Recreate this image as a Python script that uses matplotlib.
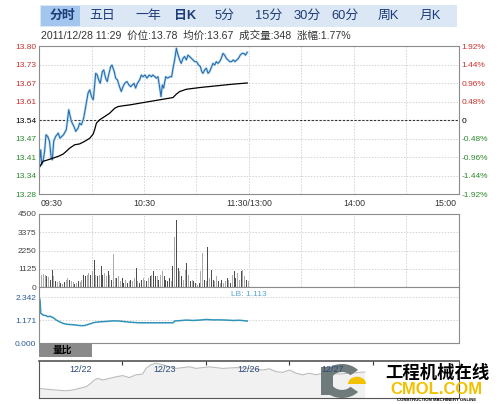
import matplotlib.pyplot as plt
from matplotlib.patches import Rectangle, Wedge

plt.rcParams['font.family'] = ['Liberation Sans', 'Noto Sans CJK SC', 'DejaVu Sans']

W, H = 499, 404

# ---- data ----
tabs = ['分时', '五日', '一年', '日K', '5分', '15分', '30分', '60分', '周K', '月K']
tab_x = [62, 102, 148, 185, 225, 269, 307, 345, 388, 430]
info = '2011/12/28 11:29  价位:13.78  均价:13.67  成交量:348  涨幅:1.77%'

prev_close = 13.54
price_ticks = [13.28, 13.345, 13.41, 13.475, 13.54, 13.605, 13.67, 13.735, 13.80]
price_labels = ['13.28', '13.34', '13.41', '13.47', '13.54', '13.61', '13.67', '13.73', '13.80']
pct_labels = ['-1.92%', '-1.44%', '-0.96%', '-0.48%', '0', '0.48%', '0.96%', '1.44%', '1.92%']
time_labels = ['09:30', '10:30', '11:30/13:00', '14:00', '15:00']
time_pos = [0, 60, 120, 180, 240]

# minutes after 09:30, price
t_price = [0, 1, 1.5, 2.3, 3.2, 4, 5, 6, 7, 7.6, 8.4, 9.5, 11, 12, 13, 14, 15.6, 17, 18.5, 20,
           21, 22.3, 23.2, 24.2, 25.5, 26.7, 28, 29, 30, 31, 31.8, 32.4, 33.3, 34.1, 35, 36.2, 37,
           38.1, 39, 40, 41, 41.7, 43, 43.8, 44.8, 45.7, 47, 48, 49, 50.3, 51.4, 52.4, 53.3, 54.3,
           55.2, 56.2, 57.5, 58.5, 59.4, 60.6, 61.7, 63, 64.2, 65, 66.3, 67, 68, 69, 69.7, 70.5,
           71.2, 72.4, 73.5, 74.7, 75.8, 76.6, 77.5, 78.5, 79.2, 80.4, 81.3, 82.3, 83.2, 84.2,
           85.1, 86, 87, 88, 89, 90, 91.2, 92.2, 93, 93.7, 94.7, 95.6, 96.6, 97.5, 98.7, 99.4,
           100.4, 101.3, 102.3, 103.2, 104.2, 105.1, 106.1, 107, 108, 109, 110, 111, 112, 113,
           114, 115, 116, 117, 118, 119]
price = [13.377, 13.435, 13.383, 13.395, 13.430, 13.488, 13.482, 13.465, 13.406, 13.400,
         13.465, 13.482, 13.494, 13.476, 13.482, 13.488, 13.506, 13.576, 13.535, 13.517,
         13.500, 13.511, 13.529, 13.523, 13.546, 13.587, 13.634, 13.646, 13.622, 13.611,
         13.663, 13.704, 13.698, 13.681, 13.669, 13.710, 13.716, 13.687, 13.675, 13.704,
         13.728, 13.733, 13.710, 13.687, 13.681, 13.663, 13.640, 13.657, 13.669, 13.675,
         13.663, 13.657, 13.663, 13.669, 13.652, 13.669, 13.681, 13.698, 13.692, 13.698,
         13.687, 13.698, 13.692, 13.698, 13.692, 13.687, 13.692, 13.652, 13.622, 13.663,
         13.652, 13.692, 13.687, 13.692, 13.692, 13.722, 13.751, 13.792, 13.774, 13.751,
         13.739, 13.757, 13.763, 13.751, 13.768, 13.763, 13.757, 13.751, 13.745, 13.745,
         13.733, 13.728, 13.710, 13.704, 13.716, 13.722, 13.704, 13.710, 13.728, 13.739,
         13.733, 13.745, 13.739, 13.745, 13.757, 13.774, 13.768, 13.757, 13.751, 13.745,
         13.745, 13.751, 13.745, 13.751, 13.757, 13.768, 13.774, 13.774, 13.768, 13.778]

t_avg = [0, 2.3, 5.1, 8, 10.9, 13.7, 15.6, 17.5, 20.4, 23.2, 26.1, 29, 30.9, 31.8, 32.8, 34.7,
         37.5, 40.4, 43.2, 45.1, 48, 51.8, 57.5, 63.2, 69, 76.6, 78.5, 80.4, 84.2, 91.8, 101.3,
         110.9, 119]
avg_price = [13.371, 13.395, 13.400, 13.406, 13.412, 13.420, 13.430, 13.441, 13.453, 13.456,
             13.465, 13.476, 13.490, 13.506, 13.529, 13.541, 13.552, 13.564, 13.581, 13.587,
             13.590, 13.593, 13.599, 13.605, 13.611, 13.619, 13.631, 13.640, 13.648, 13.654,
             13.660, 13.666, 13.670]

vol_ticks = [0, 1125, 2250, 3375, 4500]
volume = [1370, 750, 800, 750, 650, 600, 450, 1060, 650, 350, 300, 350, 250, 200, 300, 450,
          550, 450, 400, 300, 200, 250, 350, 300, 450, 750, 650, 750, 850, 750, 960, 1680,
          750, 650, 750, 1270, 750, 850, 650, 960, 750, 450, 2045, 550, 550, 650, 350, 550,
          250, 450, 250, 350, 450, 350, 550, 1165, 350, 250, 450, 550, 450, 350, 550, 650,
          750, 960, 650, 650, 450, 750, 960, 650, 450, 350, 550, 350, 1270, 3070, 4130, 1170,
          960, 650, 450, 1060, 1470, 750, 350, 450, 350, 250, 150, 250, 960, 2085, 450, 350,
          2435, 550, 1060, 450, 350, 650, 350, 250, 450, 250, 350, 550, 450, 250, 750, 960,
          550, 850, 450, 960, 1060, 650, 450, 350]
vol_shade = ('DLLLDLDDLDLLDLDLLDLLDLDLLDDLLDLD'
             'LDLDDLLDLDLLDLLDDLDLDLLDLDDLLDLD'
             'LDDLDLLDDDDLDLDDLDLLDLDLDDLDLLDL'
             'DLDDLLDLDLLDLDLDDLLDLLDL')

ratio_ticks = [0.0, 1.171, 2.342]
ratio_labels = ['0.000', '1.171', '2.342']
t_ratio = [0, 0.6, 1, 2.3, 4.2, 5.1, 6.1, 8, 9.9, 11.8, 13.7, 15.6, 17.5, 19.4, 21.3, 24.2,
           26.1, 28, 29.9, 31.8, 34.7, 38.5, 42.3, 46.1, 49.9, 53.7, 57.5, 61.3, 65.1, 68.9,
           72.8, 76.6, 77.5, 80.4, 84.2, 88, 91.8, 95.6, 99.4, 103.2, 107, 110.9, 114.7, 119]
ratio = [2.39, 2.20, 1.53, 1.44, 1.40, 1.35, 1.38, 1.31, 1.18, 1.09, 1.01, 0.97, 0.95,
         0.94, 0.92, 0.89, 0.90, 0.95, 1.01, 1.06, 1.09, 1.11, 1.14, 1.13, 1.09, 1.06,
         1.04, 1.04, 1.04, 1.04, 1.04, 1.04, 1.13, 1.15, 1.18, 1.16, 1.18, 1.21, 1.19,
         1.19, 1.18, 1.16, 1.17, 1.13]
ratio_last = 'LB: 1.113'

nav_days = ['12/22', '12/23', '12/26', '12/27']
nav_x = [0.004, 0.084, 0.204, 0.323, 0.404, 0.483, 0.563, 0.623, 0.662, 0.703, 0.763, 0.842,
         0.922, 1.002, 1.081, 1.162, 1.242, 1.281, 1.341, 1.401, 1.481, 1.560, 1.641, 1.721,
         1.800, 1.880, 1.960, 2.040, 2.200, 2.359, 2.519, 2.679, 2.758, 2.838, 2.919, 2.998,
         3.078, 3.158, 3.237, 3.317, 3.398, 3.6, 3.9]
nav_price = [13.14, 13.12, 13.10, 13.08, 13.10, 13.14, 13.18, 13.27, 13.35, 13.39, 13.35,
             13.39, 13.43, 13.46, 13.41, 13.48, 13.50, 13.64, 13.73, 13.77, 13.73, 13.68,
             13.64, 13.66, 13.68, 13.64, 13.66, 13.68, 13.64, 13.66, 13.64, 13.60, 13.63,
             13.56, 13.54, 13.60, 13.52, 13.48, 13.52, 13.48, 13.52, 13.50, 13.55]


def fx(x):
    return x / W


def fy(y):
    return 1 - y / H


fig = plt.figure(figsize=(W / 100, H / 100), dpi=100)
fig.patch.set_facecolor('white')

RED = '#c8302c'
GREEN = '#2c8a2c'
GRID = '#d4d4d4'
EDGE = '#8c8c8c'

# ---- tab bar ----
fig.patches.append(Rectangle((fx(40), fy(27)), fx(417), 22 / H, transform=fig.transFigure,
                             facecolor='#dce7f5', edgecolor='none'))
fig.patches.append(Rectangle((fx(41), fy(26)), fx(39), 20 / H, transform=fig.transFigure,
                             facecolor='#a3c6ee', edgecolor='none'))
for name, x in zip(tabs, tab_x):
    bold = name in ('分时', '日K')
    fig.text(fx(x), fy(16), name, ha='center', va='center', fontsize=9.3,
             color='#1d3c78', fontweight='bold' if bold else 'normal')

fig.text(fx(41), fy(36), info, ha='left', va='center', fontsize=7.6, color='#333333')


def frame(ax):
    for s in ax.spines.values():
        s.set_color(EDGE)
        s.set_linewidth(0.8)
    ax.tick_params(length=0, labelsize=6)
    ax.set_xlim(0, 240)
    ax.set_xticks([30 * k for k in range(1, 8)])
    ax.set_xticklabels([])


# ---- price panel ----
ax = fig.add_axes([fx(39), fy(194), fx(420), 148 / H])
frame(ax)
ax.set_ylim(price_ticks[0], price_ticks[-1])
ax.set_yticks(price_ticks)
ax.set_yticklabels(price_labels)
ax.grid(True, color=GRID, linestyle=(0, (1.5, 1.5)), linewidth=0.7)
ax.axhline(prev_close, color='#333333', linestyle=(0, (2, 1.5)), linewidth=0.8)
for lbl, v in zip(ax.get_yticklabels(), price_ticks):
    lbl.set_color(RED if v > prev_close + 1e-6 else GREEN if v < prev_close - 1e-6 else 'black')
ax.tick_params(axis='y', pad=2)
ax2 = ax.twinx()
ax2.set_ylim(ax.get_ylim())
ax2.set_yticks(price_ticks)
ax2.set_yticklabels(pct_labels)
ax2.tick_params(length=0, labelsize=6, pad=2)
for s in ax2.spines.values():
    s.set_visible(False)
for lbl, v in zip(ax2.get_yticklabels(), price_ticks):
    lbl.set_color(RED if v > prev_close + 1e-6 else GREEN if v < prev_close - 1e-6 else 'black')
ax.plot(t_price, price, color='#b3dcf2', linewidth=1.8, solid_joinstyle='round')
ax.plot(t_price, price, color='#2a68a6', linewidth=0.75)
ax.plot(t_avg, avg_price, color='black', linewidth=0.9)

for lab, t in zip(time_labels, time_pos):
    ha = 'left' if t == 0 else 'right' if t == 240 else 'center'
    x = 39 + t * 420 / 240 + (2 if t == 0 else -3 if t == 240 else 0)
    fig.text(fx(x), fy(203), lab, ha=ha, va='center', fontsize=6.3, color='#333333')

# ---- volume panel ----
av = fig.add_axes([fx(39), fy(287), fx(420), 73 / H])
frame(av)
av.set_ylim(0, 4500)
av.set_yticks(vol_ticks)
av.set_yticklabels([str(v) for v in vol_ticks], color='#444444')
av.tick_params(axis='y', pad=2)
av.grid(True, color=GRID, linestyle=(0, (1.5, 1.5)), linewidth=0.7)
av.set_axisbelow(True)
cols = ['#4d4d4d' if c == 'D' else '#ababab' for c in vol_shade]
av.bar([i + 0.5 for i in range(len(volume))], volume, width=0.7, color=cols[:len(volume)],
       linewidth=0)

# ---- ratio panel ----
ar = fig.add_axes([fx(39), fy(343), fx(420), 56 / H])
for s in ar.spines.values():
    s.set_color(EDGE)
    s.set_linewidth(0.8)
ar.set_xlim(0, 240)
ar.set_xticks([])
ar.set_ylim(0, 2.882)
ar.set_yticks(ratio_ticks)
ar.set_yticklabels(ratio_labels, color='#2b5a9a')
ar.tick_params(length=0, labelsize=6, pad=2)
for v in ratio_ticks[1:]:
    ar.axhline(v, color=GRID, linestyle=(0, (1.5, 1.5)), linewidth=0.7)
ar.plot(t_ratio, ratio, color='#2f93b8', linewidth=1.1)
ar.text(0.5, 0.87, ratio_last, transform=ar.transAxes, ha='center', va='center',
        fontsize=6, color='#5aa6cf')

# tab under ratio
fig.patches.append(Rectangle((fx(39), fy(357)), fx(53), 14 / H, transform=fig.transFigure,
                             facecolor='#8a8a8a', edgecolor='none'))
fig.text(fx(62), fy(350), '量比', ha='center', va='center', fontsize=7, color='black',
         fontweight='bold')

# ---- navigator ----
an = fig.add_axes([fx(39), fy(398), fx(420), 37 / H])
for s in an.spines.values():
    s.set_color('#555555')
    s.set_linewidth(0.8)
an.spines['top'].set_linewidth(1.2)
an.set_xlim(0, 5.03)
an.set_ylim(12.9, 13.825)
an.set_yticks([])
an.set_xticks([1, 2, 3, 4])
an.xaxis.tick_top()
an.tick_params(axis='x', direction='in', length=3, color='#333333', labeltop=False)
an.fill_between(nav_x, nav_price, 12.9, color='#f1f1f1', linewidth=0)
an.plot(nav_x, nav_price, color='#bcbcbc', linewidth=0.8)
for i, d in enumerate(nav_days):
    fig.text(fx(39 + 84 * (i + 0.5)), fy(370), d, ha='center', va='center', fontsize=6.5,
             color='#2b4a7a', zorder=5)

# ---- watermark logo ----
fig.patches.append(Wedge((fx(342), fy(381)), fx(21), 40, 320, width=fx(10),
                         transform=fig.transFigure, facecolor='#6f7b7b', edgecolor='none'))
fig.patches.append(Rectangle((fx(321), fy(395)), fx(12), 28 / H, transform=fig.transFigure,
                             facecolor='#6f7b7b', edgecolor='none'))
fig.patches.append(Wedge((fx(357), fy(384)), fx(9), 0, 180, transform=fig.transFigure,
                         facecolor='#f2c200', edgecolor='none'))
fig.text(fx(437), fy(373), '工程机械在线', ha='center', va='center', fontsize=12.5,
         fontweight='bold', color='black')
fig.text(fx(436), fy(390), 'CMOL.COM', ha='center', va='center', fontsize=12,
         fontweight='bold', color='#f2c200')
fig.text(fx(437), fy(400), 'CONSTRUCTION MACHINERY ONLINE', ha='center', va='center',
         fontsize=3.2, fontweight='bold', color='black')

fig.savefig('out.png', dpi=100)
